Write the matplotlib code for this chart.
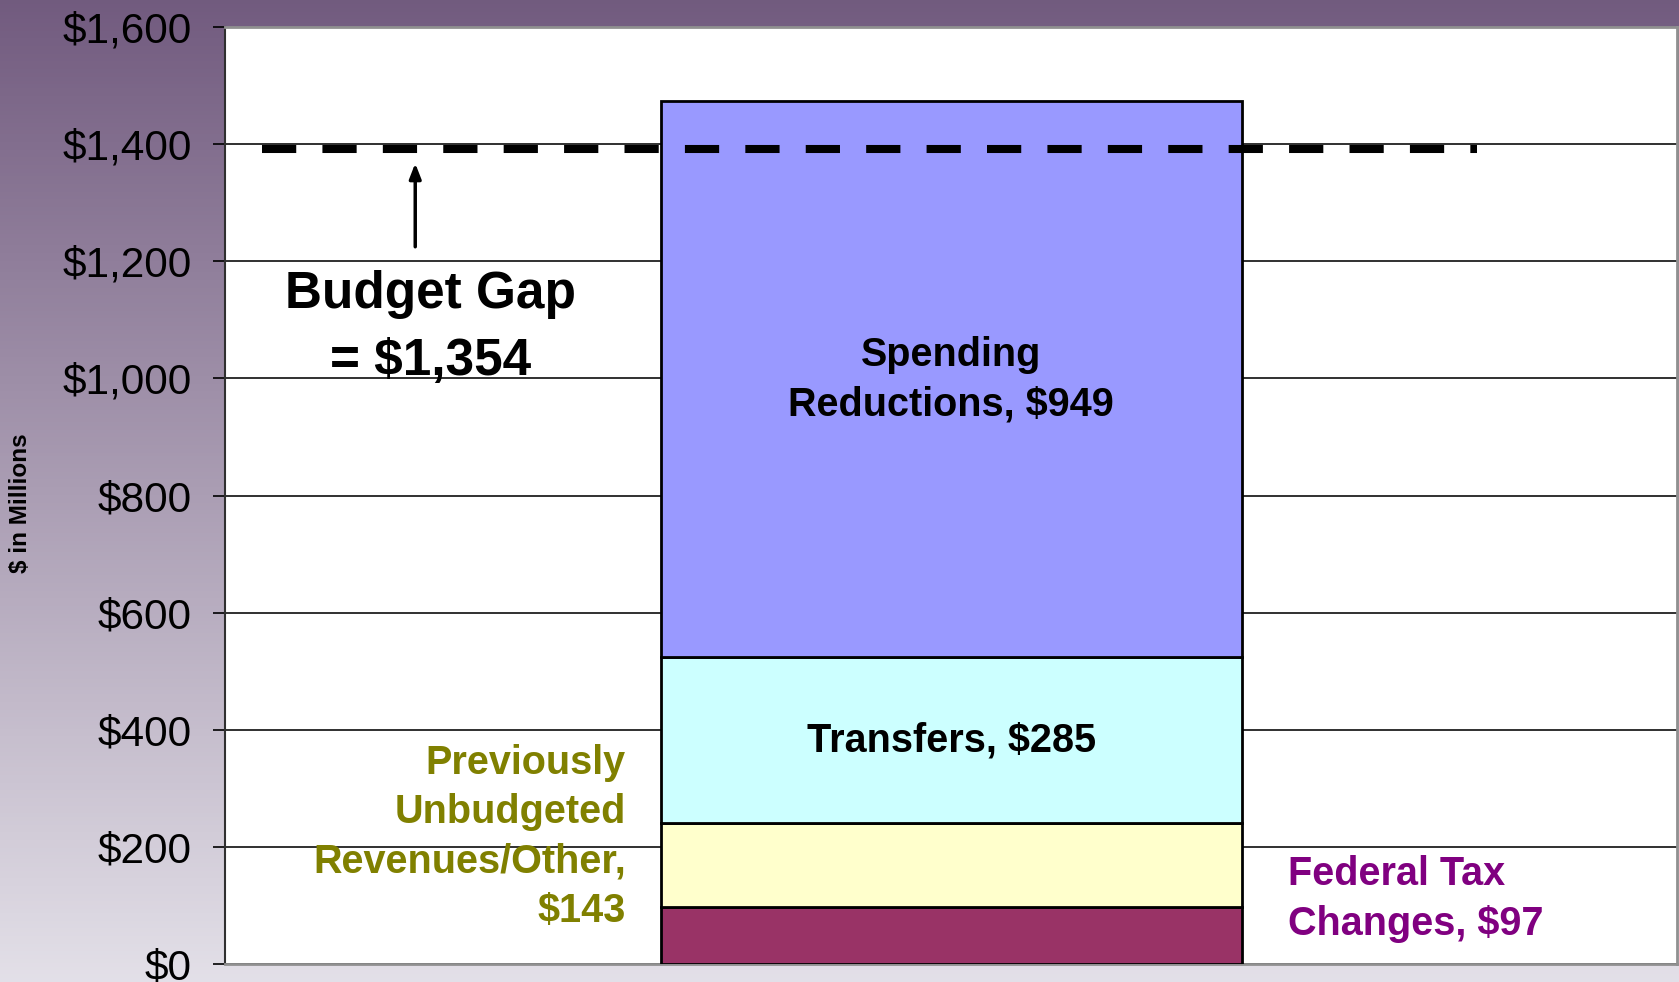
import numpy as np
import matplotlib
matplotlib.use("Agg")
import matplotlib.pyplot as plt
from matplotlib.ticker import FuncFormatter

plt.rcParams['font.family'] = ['Liberation Sans', 'DejaVu Sans']

# stacked components of the gap-closing plan ($ millions), bottom to top
segments = ["Federal Tax Changes", "Previously Unbudgeted Revenues/Other",
            "Transfers", "Spending Reductions"]
values = [97, 143, 285, 949]
colors = ["#993366", "#FFFFCC", "#CCFFFF", "#9999FF"]
budget_gap = 1354
gap_line_y = 1392   # where the dashed line sits in the original drawing
yticks = [0, 200, 400, 600, 800, 1000, 1200, 1400, 1600]

fig = plt.figure(figsize=(16.79, 9.82), dpi=100)

# purple-to-grey vertical gradient behind everything
bg = fig.add_axes([0, 0, 1, 1], zorder=-10)
top = np.array([0.447, 0.357, 0.498])
bot = np.array([0.890, 0.878, 0.910])
t = np.linspace(0, 1, 256)[:, None]
grad = top + (bot - top) * t
bg.imshow(grad[:, None, :].repeat(2, axis=1), aspect='auto', extent=[0, 1, 0, 1])
bg.axis('off')

ax = fig.add_axes([0.134, 0.0183, 0.865, 0.9542])
ax.set_facecolor('white')

bottom = 0
for v, c in zip(values, colors):
    ax.bar(0.5, v, width=0.4, bottom=bottom, color=c, edgecolor='black',
           linewidth=2, zorder=3)
    bottom += v

ax.set_xlim(0, 1)
ax.set_ylim(0, 1600)
ax.set_yticks(yticks)
ax.yaxis.set_major_formatter(FuncFormatter(lambda v, p: f"${v:,.0f}"))
ax.tick_params(axis='y', labelsize=30.5, length=9, width=1.2, pad=15, direction='out')
ax.tick_params(axis='x', bottom=False, labelbottom=False)
ax.yaxis.grid(True, color='#202020', linewidth=1.3, zorder=1)
ax.set_axisbelow(True)
for side in ['top', 'right', 'bottom']:
    ax.spines[side].set_color('#909090')
    ax.spines[side].set_linewidth(2)
ax.spines['left'].set_color('#303030')
ax.spines['left'].set_linewidth(1.5)

fig.text(0.0125, 0.4875, "$ in Millions", rotation=90, ha='center', va='center',
         fontsize=17.5, fontweight='bold')

# budget gap dashed line and arrow
ax.plot([0.0254, 0.862], [gap_line_y, gap_line_y], color='black', linewidth=5.8,
        dashes=(4.25, 3.25), solid_capstyle='butt', dash_capstyle='butt', zorder=5)
ax.annotate("", xy=(0.131, 1372), xytext=(0.131, 1220),
            arrowprops=dict(arrowstyle='-|>,head_length=0.9,head_width=0.35',
                            color='black', lw=2.5), zorder=5)
ax.text(0.1413, 1086, f"Budget Gap\n= ${budget_gap:,}", ha='center', va='center',
        fontsize=37, fontweight='bold', linespacing=1.45, zorder=6)

# segment labels
ax.text(0.5, 998, f"Spending\nReductions, ${values[3]}", ha='center', va='center',
        fontsize=28.5, fontweight='bold', linespacing=1.38, zorder=6)
ax.text(0.5, 382, f"Transfers, ${values[2]}", ha='center', va='center',
        fontsize=28.5, fontweight='bold', zorder=6)
ax.text(0.276, 217, f"Previously\nUnbudgeted\nRevenues/Other,\n${values[1]}",
        ha='right', va='center', fontsize=28.5, fontweight='bold', color='#808000',
        linespacing=1.38, zorder=6)
ax.text(0.732, 111, f"Federal Tax\nChanges, ${values[0]}", ha='left', va='center',
        fontsize=28.5, fontweight='bold', color='#800080', linespacing=1.38, zorder=6)

fig.savefig("out.png", dpi=100)
